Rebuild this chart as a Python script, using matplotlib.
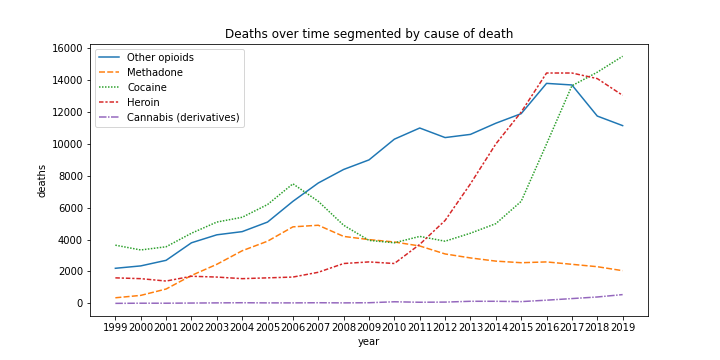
import numpy as np
import matplotlib
matplotlib.use('Agg')
import matplotlib.pyplot as plt

years = list(range(1999, 2020))

other_opioids = [2200, 2350, 2700, 3800, 4300, 4500, 5100, 6400, 7550, 8400, 9000,
                 10300, 11000, 10400, 10600, 11300, 11900, 13800, 13700, 11750, 11150]
methadone = [350, 500, 900, 1750, 2450, 3300, 3900, 4800, 4900, 4200, 4000,
             3850, 3600, 3100, 2850, 2650, 2550, 2600, 2450, 2300, 2050]
cocaine = [3650, 3350, 3550, 4400, 5100, 5400, 6200, 7500, 6400, 4900, 3950,
           3800, 4200, 3900, 4400, 5000, 6400, 10000, 13650, 14500, 15500]
heroin = [1600, 1550, 1400, 1700, 1650, 1550, 1600, 1650, 1950, 2500, 2600,
          2500, 3700, 5200, 7500, 10000, 12000, 14450, 14450, 14100, 13050]
cannabis = [0, 10, 10, 20, 30, 40, 30, 30, 40, 30, 40,
            100, 70, 80, 130, 130, 110, 200, 300, 400, 550]

series = [
    ('Other opioids', other_opioids, '#1f77b4', (None, None)),
    ('Methadone', methadone, '#ff7f0e', (4, 1.5)),
    ('Cocaine', cocaine, '#2ca02c', (1, 1)),
    ('Heroin', heroin, '#d62728', (3, 1.25, 1.5, 1.25)),
    ('Cannabis (derivatives)', cannabis, '#9467bd', (5, 1, 1, 1)),
]

fig, ax = plt.subplots(figsize=(10, 5), dpi=72)
fig.subplots_adjust(left=0.125, right=0.9, bottom=0.123, top=0.878)
for name, vals, color, dash in series:
    line, = ax.plot(years, vals, color=color, label=name, linewidth=1.5)
    if dash[0] is not None:
        line.set_dashes(dash)

ax.set_xticks(years)
ax.set_xticklabels([str(y) for y in years])
ax.set_xlabel('year')
ax.set_ylabel('deaths')
ax.set_title('Deaths over time segmented by cause of death')
ax.legend(loc='upper left')

fig.savefig('out.png', dpi=72)
